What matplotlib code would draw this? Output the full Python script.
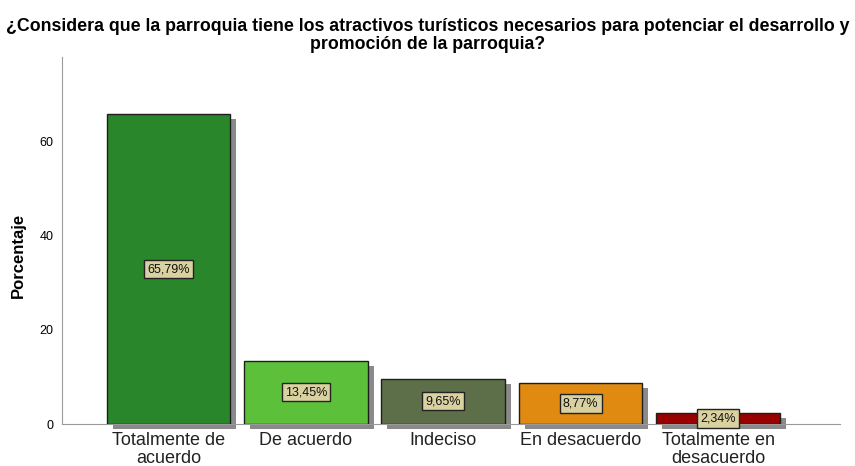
import matplotlib.pyplot as plt
from matplotlib import transforms

plt.rcParams["font.family"] = ["Liberation Sans", "DejaVu Sans"]

# Data
categories = ['Totalmente de\nacuerdo', 'De acuerdo', 'Indeciso', 'En desacuerdo', 'Totalmente en\ndesacuerdo']
percentages = [65.79, 13.45, 9.65, 8.77, 2.34]
value_labels = ['65,79%', '13,45%', '9,65%', '8,77%', '2,34%']
bar_colors = ['#2a862a', '#5dc03a', '#5c6f48', '#e08a12', '#990000']

fig = plt.figure(figsize=(8.55, 4.66), dpi=100)
ax = fig.add_axes([0.0725, 0.0901, 0.91, 0.7876])

x = range(len(categories))

# drop shadow, shifted a few pixels right and down
shadow_offset = transforms.ScaledTranslation(6 / 100, -5 / 100, fig.dpi_scale_trans)
shadow = ax.bar(x, percentages, width=0.9, color='#8a8a8a', edgecolor='none', zorder=1)
for p in shadow:
    p.set_transform(ax.transData + shadow_offset)
    p.set_clip_on(False)

bars = ax.bar(x, percentages, width=0.9, color=bar_colors, edgecolor='#1e1e1e', linewidth=1, zorder=3)

for xi, h, lab in zip(x, percentages, value_labels):
    ax.text(xi, h / 2, lab, ha='center', va='center', fontsize=9, color='#111111', zorder=5,
            bbox=dict(boxstyle='square,pad=0.25', facecolor='#d9d1a0', edgecolor='#222222', linewidth=1))

ax.set_xlim(-0.775, 4.888)
ax.set_ylim(0, 78)
ax.set_yticks([0, 20, 40, 60])
ax.set_xticks(list(x))
ax.set_xticklabels(categories, fontsize=13, color='#222222', linespacing=1.05)
ax.tick_params(axis='x', length=0, pad=6)
ax.tick_params(axis='y', length=0, labelsize=9, pad=6)

for side in ['top', 'right']:
    ax.spines[side].set_visible(False)
ax.spines['left'].set_color('#9a9a9a')
ax.spines['bottom'].set_color('#9a9a9a')
ax.spines['bottom'].set_zorder(2)

ax.set_ylabel('Porcentaje', fontsize=12, fontweight='bold')
ax.yaxis.set_label_coords(-0.047, 0.46)
fig.suptitle('¿Considera que la parroquia tiene los atractivos turísticos necesarios para potenciar el desarrollo y\npromoción de la parroquia?',
             x=0.5, y=0.962, fontsize=12.8, fontweight='bold', linespacing=1.1)

plt.savefig('out.png', dpi=100)
